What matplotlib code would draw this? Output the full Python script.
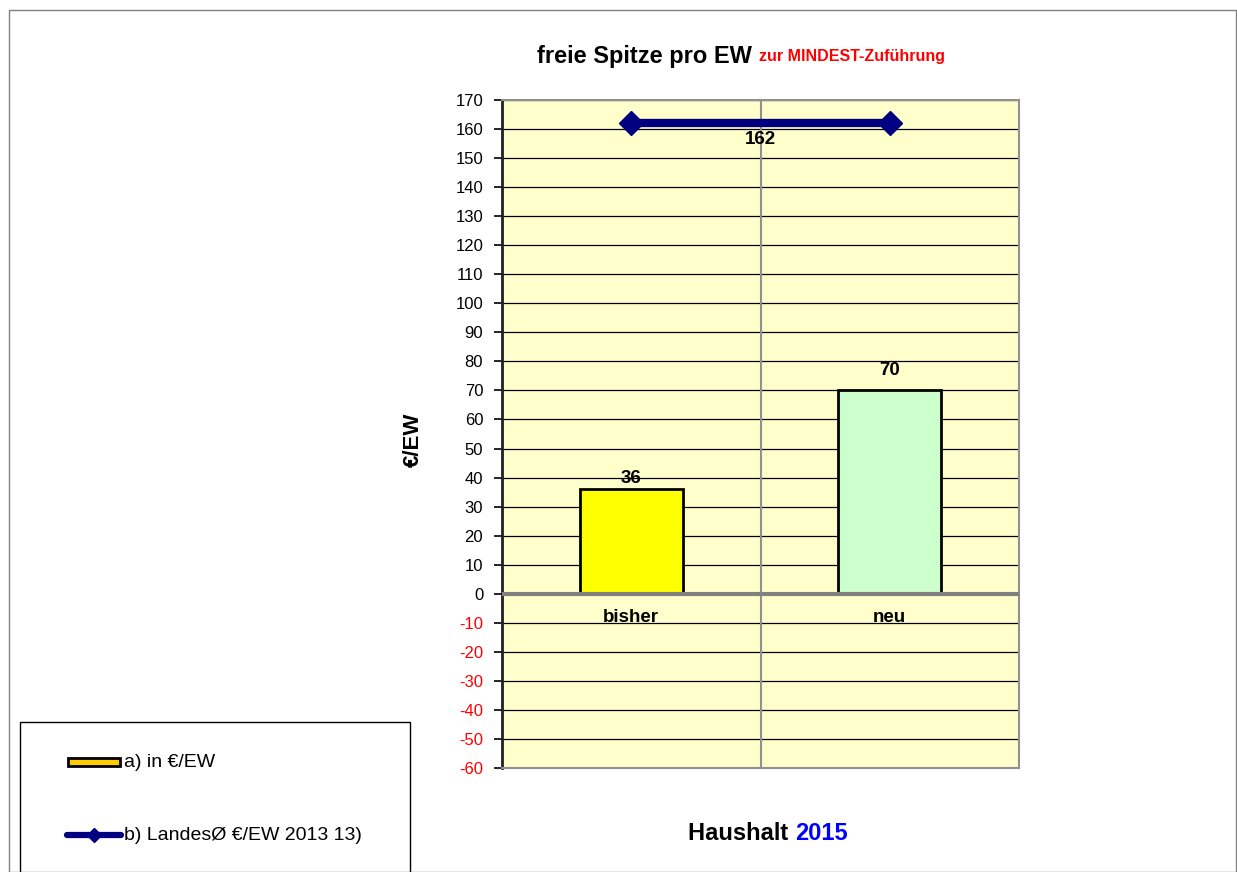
import matplotlib
matplotlib.use("Agg")
import matplotlib.pyplot as plt
from matplotlib.patches import Rectangle
from matplotlib.lines import Line2D

categories = ["bisher", "neu"]
values = [36, 70]
bar_colors = ["#FFFF00", "#CCFFCC"]
landes_avg = [162, 162]
yticks = list(range(-60, 171, 10))

plt.rcParams['font.family'] = ['Liberation Sans', 'DejaVu Sans']

W, H = 1237, 872
fig = plt.figure(figsize=(W / 100, H / 100), dpi=100)

def fx(px):
    return px / W

def fy(py):
    return 1 - py / H

# figure border
fig.add_artist(Rectangle((fx(9), fy(872)), fx(1236) - fx(9), fy(10) - fy(872),
                         transform=fig.transFigure, fill=False, edgecolor="#808080", lw=1))

ax = fig.add_axes([fx(502), fy(768), fx(1019) - fx(502), fy(100) - fy(768)])
ax.set_facecolor("#FFFFCC")
x = list(range(len(categories)))
ax.set_xlim(-0.5, 1.5)
ax.set_ylim(-60, 170)

for yv in yticks:
    if yv != 0:
        ax.axhline(yv, color="black", lw=0.9, zorder=1)
ax.axvline(0.5, color="#909090", lw=1.5, zorder=1)
ax.axhline(0, color="#808080", lw=3, zorder=3)

bars = ax.bar(x, values, width=0.4, color=bar_colors, edgecolor="black", lw=2, zorder=2)
label_offsets = [1.5, 8]
for xi, v, off in zip(x, values, label_offsets):
    ax.annotate(str(v), (xi, v), xytext=(0, off), textcoords="offset points",
                ha="center", va="bottom", fontsize=13.5, fontweight="bold")

ax.plot(x, landes_avg, color="#000080", lw=6, marker="D", markersize=12,
        solid_capstyle="butt", zorder=4)
ax.annotate(str(landes_avg[0]), (0.5, landes_avg[0]), xytext=(0, -5.5), textcoords="offset points",
            ha="center", va="top", fontsize=13.5, fontweight="bold")

for xi, c in zip(x, categories):
    ax.annotate(c, (xi, 0), xytext=(0, -11), textcoords="offset points",
                ha="center", va="top", fontsize=13.5, fontweight="bold")

ax.set_yticks(yticks)
ax.set_yticklabels([str(t) for t in yticks], fontsize=12)
for lab, t in zip(ax.get_yticklabels(), yticks):
    lab.set_color("red" if t < 0 else "black")
ax.tick_params(axis="y", direction="out", length=6, width=1.2, pad=7.5)
ax.set_xticks([])
ax.spines["left"].set_color("#202020")
ax.spines["left"].set_linewidth(2)
for s in ["top", "right", "bottom"]:
    ax.spines[s].set_color("#909090")
    ax.spines[s].set_linewidth(1.5)

fig.text(fx(413), fy(440), "€/EW", rotation=90, ha="center", va="center",
         fontsize=16, fontweight="bold")

# title
t1 = fig.text(fx(537), fy(56), "freie Spitze pro EW", ha="left", va="center",
              fontsize=17, fontweight="bold")
fig.canvas.draw()
bb = t1.get_window_extent()
fig.text(bb.x1 / W + fx(7), fy(57), "zur MINDEST-Zuführung", ha="left", va="center",
         fontsize=11.5, fontweight="bold", color="red")

# bottom label
t2 = fig.text(fx(688), fy(833), "Haushalt ", ha="left", va="center",
              fontsize=17, fontweight="bold")
fig.canvas.draw()
bb2 = t2.get_window_extent()
fig.text(bb2.x1 / W, fy(833), "2015", ha="left", va="center",
         fontsize=17, fontweight="bold", color="#0000FF")

# legend box
fig.add_artist(Rectangle((fx(20), fy(875)), fx(410) - fx(20), fy(722) - fy(875),
                         transform=fig.transFigure, fill=False, edgecolor="black", lw=1))
fig.add_artist(Rectangle((fx(68), fy(766)), fx(120) - fx(68), fy(758) - fy(766),
                         transform=fig.transFigure, facecolor="#FFCC00", edgecolor="black", lw=2))
fig.text(fx(124), fy(762), "a) in €/EW", ha="left", va="center", fontsize=14)
fig.add_artist(Line2D([fx(67), fx(121)], [fy(835), fy(835)], transform=fig.transFigure,
                      color="#000080", lw=4.5, solid_capstyle="round"))
fig.add_artist(Line2D([fx(94)], [fy(835)], transform=fig.transFigure,
                      color="#000080", marker="D", markersize=7, lw=0))
fig.text(fx(124), fy(835), "b) LandesØ €/EW 2013 13)", ha="left", va="center", fontsize=14)

fig.savefig("out.png", dpi=100)
